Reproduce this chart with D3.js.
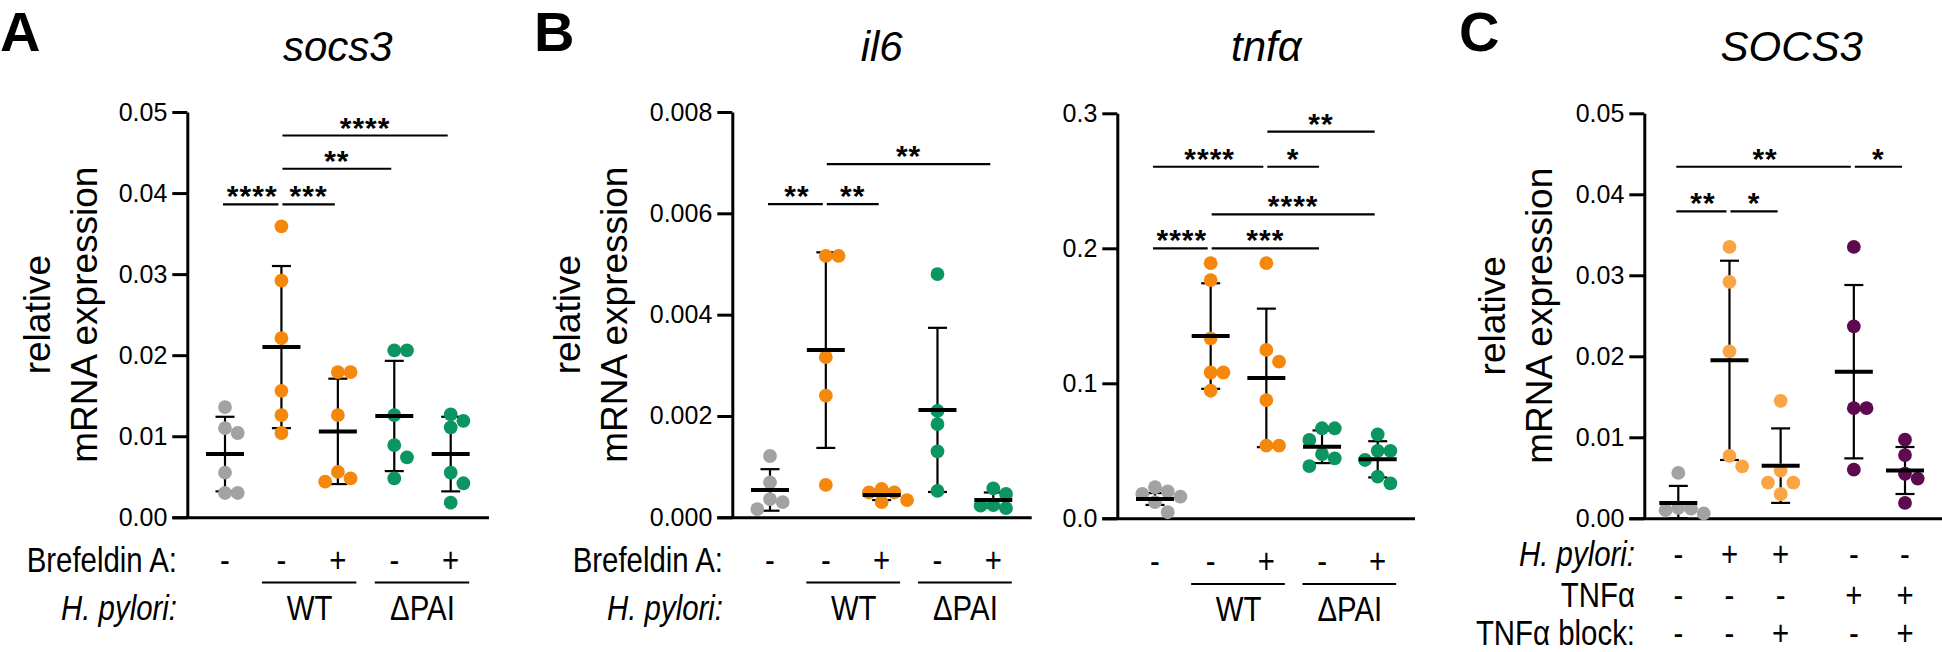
<!DOCTYPE html>
<html><head><meta charset="utf-8">
<script src="https://cdn.jsdelivr.net/npm/d3@7"></script>
<style>
body{margin:0;background:#fff;}
svg text{font-family:"Liberation Sans",Arial,Helvetica,sans-serif;fill:#000;}
</style></head>
<body><svg id="c" width="1942" height="652"></svg>
<script>
// ---------------- DATA ----------------
// Panel A: socs3 (mouse)
const socs3Dots = [
  [0.0136, 0.0110, 0.0104, 0.0055, 0.0030, 0.0030],
  [0.0359, 0.0292, 0.0221, 0.0156, 0.0126, 0.0104],
  [0.0179, 0.0179, 0.0126, 0.0056, 0.0048, 0.0044],
  [0.0206, 0.0206, 0.0126, 0.0089, 0.0074, 0.0048],
  [0.0127, 0.0119, 0.0111, 0.0055, 0.0042, 0.0018]
];
const socs3Mean = [0.0078, 0.0210, 0.0106, 0.0125, 0.0078];
const socs3SD   = [0.0046, 0.0100, 0.0065, 0.0068, 0.0046];
const socs3Ticks = [0, 0.01, 0.02, 0.03, 0.04, 0.05];
const socs3TickLabels = ["0.00", "0.01", "0.02", "0.03", "0.04", "0.05"];
const socs3Sig = [[0, 1, 0.0386, "****"], [1, 2, 0.0386, "***"], [1, 3, 0.0430, "**"], [1, 4, 0.0471, "****"]];

// Panel B: il6
const il6Dots = [
  [0.00121, 0.00069, 0.00036, 0.00030, 0.00016],
  [0.00516, 0.00516, 0.00316, 0.00240, 0.00064],
  [0.00056, 0.00049, 0.00049, 0.00034, 0.00030],
  [0.00480, 0.00210, 0.00184, 0.00130, 0.00052],
  [0.00057, 0.00046, 0.00024, 0.00023, 0.00018]
];
const il6Mean = [0.00054, 0.00330, 0.00044, 0.00212, 0.00034];
const il6SD   = [0.00041, 0.00193, 0.00010, 0.00162, 0.00015];
const il6Ticks = [0, 0.002, 0.004, 0.006, 0.008];
const il6TickLabels = ["0.000", "0.002", "0.004", "0.006", "0.008"];
const il6Sig = [[0, 1, 0.00618, "**"], [1, 2, 0.00618, "**"], [1, 4, 0.00697, "**"]];

// Panel B: tnfα
const tnfDots = [
  [0.0230, 0.0200, 0.0180, 0.0160, 0.0120, 0.0045],
  [0.1890, 0.1765, 0.1333, 0.1080, 0.1080, 0.0945],
  [0.1890, 0.1247, 0.1160, 0.0876, 0.0538, 0.0538],
  [0.0667, 0.0667, 0.0580, 0.0476, 0.0444, 0.0387],
  [0.0622, 0.0500, 0.0500, 0.0432, 0.0308, 0.0259]
];
const tnfMean = [0.0143, 0.1350, 0.1040, 0.0530, 0.0437];
const tnfSD   = [0.0044, 0.0391, 0.0513, 0.0121, 0.0134];
const tnfTicks = [0, 0.1, 0.2, 0.3];
const tnfTickLabels = ["0.0", "0.1", "0.2", "0.3"];
const tnfSig = [[0, 1, 0.200, "****"], [1, 3, 0.200, "***"], [1, 4, 0.2252, "****"],
                [0, 2, 0.2604, "****"], [2, 3, 0.2604, "*"], [2, 4, 0.2864, "**"]];

// Panel C: SOCS3 (human)
const SOCS3Dots = [
  [0.0056, 0.0013, 0.0012, 0.0010, 0.0006],
  [0.0335, 0.0292, 0.0206, 0.0077, 0.0064],
  [0.0145, 0.0059, 0.0044, 0.0044, 0.0030],
  [0.0335, 0.0237, 0.0136, 0.0136, 0.0060],
  [0.0097, 0.0078, 0.0055, 0.0049, 0.0019]
];
const SOCS3Mean = [0.0019, 0.0195, 0.0065, 0.0181, 0.0059];
const SOCS3SD   = [0.0021, 0.0123, 0.0046, 0.0107, 0.0029];
const SOCS3Ticks = [0, 0.01, 0.02, 0.03, 0.04, 0.05];
const SOCS3TickLabels = ["0.00", "0.01", "0.02", "0.03", "0.04", "0.05"];
const SOCS3Sig = [[0, 1, 0.0379, "**"], [1, 2, 0.0379, "*"], [0, 3, 0.0434, "**"], [3, 4, 0.0434, "*"]];

// Treatment annotations
const brefeldinSigns = ["-", "-", "+", "-", "+"];
const strainLabels = [["WT", 1, 2], ["\u0394PAI", 3, 4]];
const cRowLabels = ["H. pylori:", "TNF\u03b1", "TNF\u03b1 block:"];
const cRowSigns = [
  ["-", "+", "+", "-", "-"],
  ["-", "-", "-", "+", "+"],
  ["-", "-", "+", "-", "+"]
];

// ---------------- STYLE ----------------
const GREY = "#a2a2a2", ORANGE = "#f5870c", GREEN = "#0a9561", LORANGE = "#fba443", PURPLE = "#5d0b4e";
const svg = d3.select("#c");

function dodge(vals, y, r, step) {
  const pts = vals.map(v => ({ v, py: y(v) })).sort((a, b) => a.py - b.py);
  const placed = [];
  for (const p of pts) {
    for (const s of [0, 1, -1, 2, -2, 3, -3]) {
      if (!placed.some(q => q.s === s && Math.abs(q.py - p.py) < 2 * r * 0.93)) { p.s = s; break; }
    }
    placed.push(p);
  }
  return placed;
}

function condensed(sel, x, y, sx) {
  return sel.attr("transform", `translate(${x},${y}) scale(${sx},1)`);
}

function drawPanel(c) {
  const g = svg.append("g");
  const n = c.dots.length;
  const y = d3.scaleLinear().domain([0, c.ticks[c.ticks.length - 1]]).range([c.yBot, c.yTop]);
  const slot = i => i + (c.gapAfter != null && i > c.gapAfter ? c.gapSize : 0);
  const x = d3.scaleLinear().domain([0, slot(n - 1)]).range([c.x0, c.x1]);
  const gx = i => x(slot(i));

  // axes
  const ax = d3.axisLeft(y).tickValues(c.ticks).tickFormat((d, i) => c.tickLabels[i])
    .tickSize(15).tickSizeOuter(0).tickPadding(5);
  const axg = g.append("g").attr("transform", `translate(${c.axisX},0)`).call(ax);
  axg.select(".domain").attr("stroke", "#000").attr("stroke-width", 3);
  axg.selectAll(".tick line").attr("stroke", "#000").attr("stroke-width", 3);
  axg.selectAll(".tick text").attr("font-size", 25).attr("fill", "#000")
    .style("font-family", '"Liberation Sans",Arial,sans-serif');
  g.append("line").attr("x1", c.axisX - 15).attr("x2", c.xEnd).attr("y1", c.yBot + 0.5).attr("y2", c.yBot + 0.5)
    .attr("stroke", "#000").attr("stroke-width", 3);

  // error bars
  for (let i = 0; i < n; i++) {
    const hi = y(c.mean[i] + c.sd[i]), lo = y(Math.max(0, c.mean[i] - c.sd[i]));
    const cx = gx(i);
    g.append("line").attr("x1", cx).attr("x2", cx).attr("y1", hi).attr("y2", lo).attr("stroke", "#000").attr("stroke-width", 2.2);
    g.append("line").attr("x1", cx - 9.5).attr("x2", cx + 9.5).attr("y1", hi).attr("y2", hi).attr("stroke", "#000").attr("stroke-width", 2.2);
    g.append("line").attr("x1", cx - 9.5).attr("x2", cx + 9.5).attr("y1", lo).attr("y2", lo).attr("stroke", "#000").attr("stroke-width", 2.2);
  }
  // dots
  const r = 6.9, step = 12.7;
  for (let i = 0; i < n; i++) {
    const pts = dodge(c.dots[i], y, r, step);
    g.selectAll(null).data(pts).enter().append("circle")
      .attr("cx", d => gx(i) + d.s * step).attr("cy", d => d.py).attr("r", r).attr("fill", c.colors[i]);
  }
  // means
  for (let i = 0; i < n; i++) {
    g.append("line").attr("x1", gx(i) - 19).attr("x2", gx(i) + 19).attr("y1", y(c.mean[i])).attr("y2", y(c.mean[i]))
      .attr("stroke", "#000").attr("stroke-width", 4);
  }
  // significance
  for (const [a, b, lvl, lab] of c.sig) {
    const yy = y(lvl);
    g.append("line").attr("x1", gx(a) + 1 - (a === 0 ? 3 : 0)).attr("x2", gx(b) - 3).attr("y1", yy).attr("y2", yy)
      .attr("stroke", "#000").attr("stroke-width", 2.2);
    g.append("text").attr("x", (gx(a) + gx(b)) / 2 - 1).attr("y", yy + 2).attr("text-anchor", "middle")
      .attr("font-size", 30).attr("font-weight", "bold").attr("letter-spacing", 1).text(lab);
  }
  // title
  g.append("text").attr("x", (gx(0) + gx(n - 1)) / 2).attr("y", 61).attr("text-anchor", "middle")
    .attr("font-size", 42).attr("font-style", "italic").text(c.title);
  // panel letter
  if (c.letter) g.append("text").attr("x", c.letterX).attr("y", 51).attr("font-size", 56).attr("font-weight", "bold").text(c.letter);
  // y label
  if (c.ylabelX) {
    const cy = (c.yTop + c.yBot) / 2;
    g.append("text").attr("transform", `translate(${c.ylabelX},${cy}) rotate(-90)`).attr("text-anchor", "middle")
      .attr("font-size", 37).text("relative");
    g.append("text").attr("transform", `translate(${c.ylabelX + 47},${cy}) rotate(-90)`).attr("text-anchor", "middle")
      .attr("font-size", 37).text("mRNA expression");
  }
  // bottom annotations
  const SX = 0.84, FS = 35;
  c.rows.forEach((row, k) => {
    if (row.label && c.rowLabelX) {
      condensed(g.append("text"), c.rowLabelX, row.y, SX).attr("text-anchor", "end").attr("font-size", FS)
        .attr("font-style", row.italic ? "italic" : "normal").text(row.label);
    }
    if (row.signs) row.signs.forEach((s, i) => {
      condensed(g.append("text"), gx(i), row.y, SX).attr("text-anchor", "middle").attr("font-size", FS).text(s);
    });
    if (row.strains) row.strains.forEach(([lab, a, b]) => {
      g.append("line").attr("x1", gx(a) - 19.5).attr("x2", gx(b) + 18.5).attr("y1", c.underlineY).attr("y2", c.underlineY)
        .attr("stroke", "#000").attr("stroke-width", 2.2);
      condensed(g.append("text"), (gx(a) + gx(b)) / 2, row.y, SX).attr("text-anchor", "middle").attr("font-size", FS).text(lab);
    });
  });
}

const colorsAB = [GREY, ORANGE, ORANGE, GREEN, GREEN];
const colorsC = [GREY, LORANGE, LORANGE, PURPLE, PURPLE];
const abRows = [
  { label: "Brefeldin A:", y: 572, signs: brefeldinSigns },
  { label: "H. pylori:", italic: true, y: 620, strains: strainLabels }
];

drawPanel({ title: "socs3", dots: socs3Dots, mean: socs3Mean, sd: socs3SD, ticks: socs3Ticks, tickLabels: socs3TickLabels,
  sig: socs3Sig, colors: colorsAB, axisX: 187.3, yTop: 112, yBot: 517.3, x0: 225, x1: 450.7, xEnd: 489,
  letter: "A", letterX: 0, ylabelX: 50, rowLabelX: 177, underlineY: 582.5, rows: abRows });

drawPanel({ title: "il6", dots: il6Dots, mean: il6Mean, sd: il6SD, ticks: il6Ticks, tickLabels: il6TickLabels,
  sig: il6Sig, colors: colorsAB, axisX: 732.3, yTop: 112, yBot: 517.3, x0: 770, x1: 993.3, xEnd: 1031.7,
  letter: "B", letterX: 534, ylabelX: 580, rowLabelX: 723, underlineY: 582.5, rows: abRows });

drawPanel({ title: "tnf\u03b1", dots: tnfDots, mean: tnfMean, sd: tnfSD, ticks: tnfTicks, tickLabels: tnfTickLabels,
  sig: tnfSig, colors: colorsAB, axisX: 1117.3, yTop: 113.3, yBot: 518.3, x0: 1155, x1: 1377.7, xEnd: 1415,
  underlineY: 584, rows: [{ y: 573, signs: brefeldinSigns }, { y: 621, strains: strainLabels }] });

drawPanel({ title: "SOCS3", dots: SOCS3Dots, mean: SOCS3Mean, sd: SOCS3SD, ticks: SOCS3Ticks, tickLabels: SOCS3TickLabels,
  sig: SOCS3Sig, colors: colorsC, axisX: 1644.3, yTop: 113.3, yBot: 518.3, x0: 1678.3, x1: 1905, gapAfter: 2, gapSize: 0.43,
  xEnd: 1942, letter: "C", letterX: 1459, ylabelX: 1505, rowLabelX: 1635,
  rows: cRowLabels.map((lab, k) => ({ label: lab, italic: k === 0, y: [566, 607, 645][k], signs: cRowSigns[k] })) });
</script>
</body></html>
